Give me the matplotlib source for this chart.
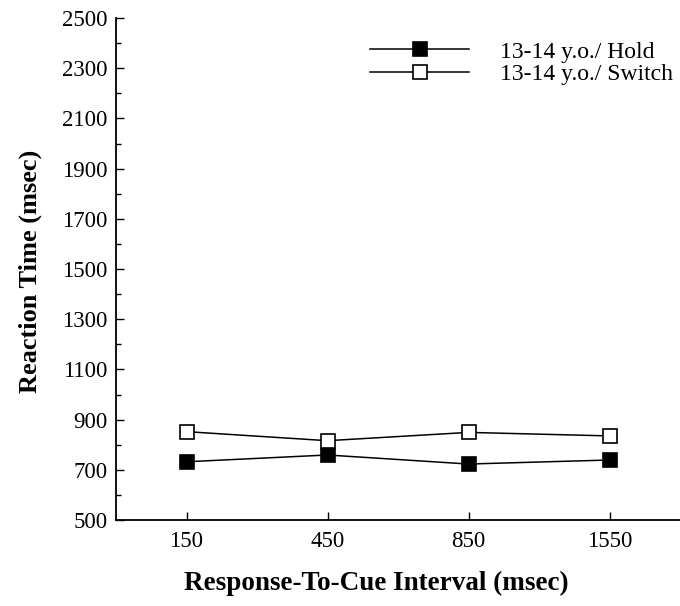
import matplotlib
matplotlib.use("Agg")
import matplotlib.pyplot as plt

intervals = ["150", "450", "850", "1550"]
hold_rt = [732, 759, 723, 739]
switch_rt = [852, 816, 849, 835]
y_major = list(range(500, 2501, 200))
y_minor = list(range(600, 2500, 200))

plt.rcParams["font.family"] = ["Liberation Serif", "DejaVu Serif"]

fig = plt.figure(figsize=(6.8, 6.06), dpi=100)
ax = fig.add_axes([116 / 680, 86 / 606, 564 / 680, 502 / 606])

x = list(range(len(intervals)))
ax.plot(x, hold_rt, color="black", lw=1.1, marker="s", ms=10.5,
        mfc="black", mec="black", mew=1.2, label="13-14 y.o./ Hold")
ax.plot(x, switch_rt, color="black", lw=1.1, marker="s", ms=10.5,
        mfc="white", mec="black", mew=1.2, label="13-14 y.o./ Switch")

ax.set_xlim(-0.5, 3.5)
ax.set_ylim(500, 2500)
ax.set_xticks(x)
ax.set_xticklabels(intervals)
ax.set_yticks(y_major)
ax.set_yticks(y_minor, minor=True)

for side in ("top", "right"):
    ax.spines[side].set_visible(False)
ax.spines["left"].set_linewidth(1.3)
ax.spines["bottom"].set_linewidth(1.3)

ax.tick_params(axis="both", which="major", direction="in", length=6, width=1,
               labelsize=16.5, pad=8)
ax.tick_params(axis="y", which="minor", direction="in", length=3.5, width=1)
ax.tick_params(axis="y", which="major", pad=6)

ax.set_ylabel("Reaction Time (msec)", fontsize=19, fontweight="bold")
ax.yaxis.set_label_coords(-0.132, 0.496)
fig.text(376 / 680, 1 - 583 / 606, "Response-To-Cue Interval (msec)",
         fontsize=19.5, fontweight="bold", ha="center", va="center")

leg = ax.legend(loc="upper left", bbox_to_anchor=(370 / 680, 1 - 41 / 606),
                bbox_transform=fig.transFigure, frameon=False, fontsize=17,
                handlelength=4.2, handletextpad=1.3, borderpad=0,
                borderaxespad=0, labelspacing=0.05)

fig.savefig("out.png", dpi=100)
